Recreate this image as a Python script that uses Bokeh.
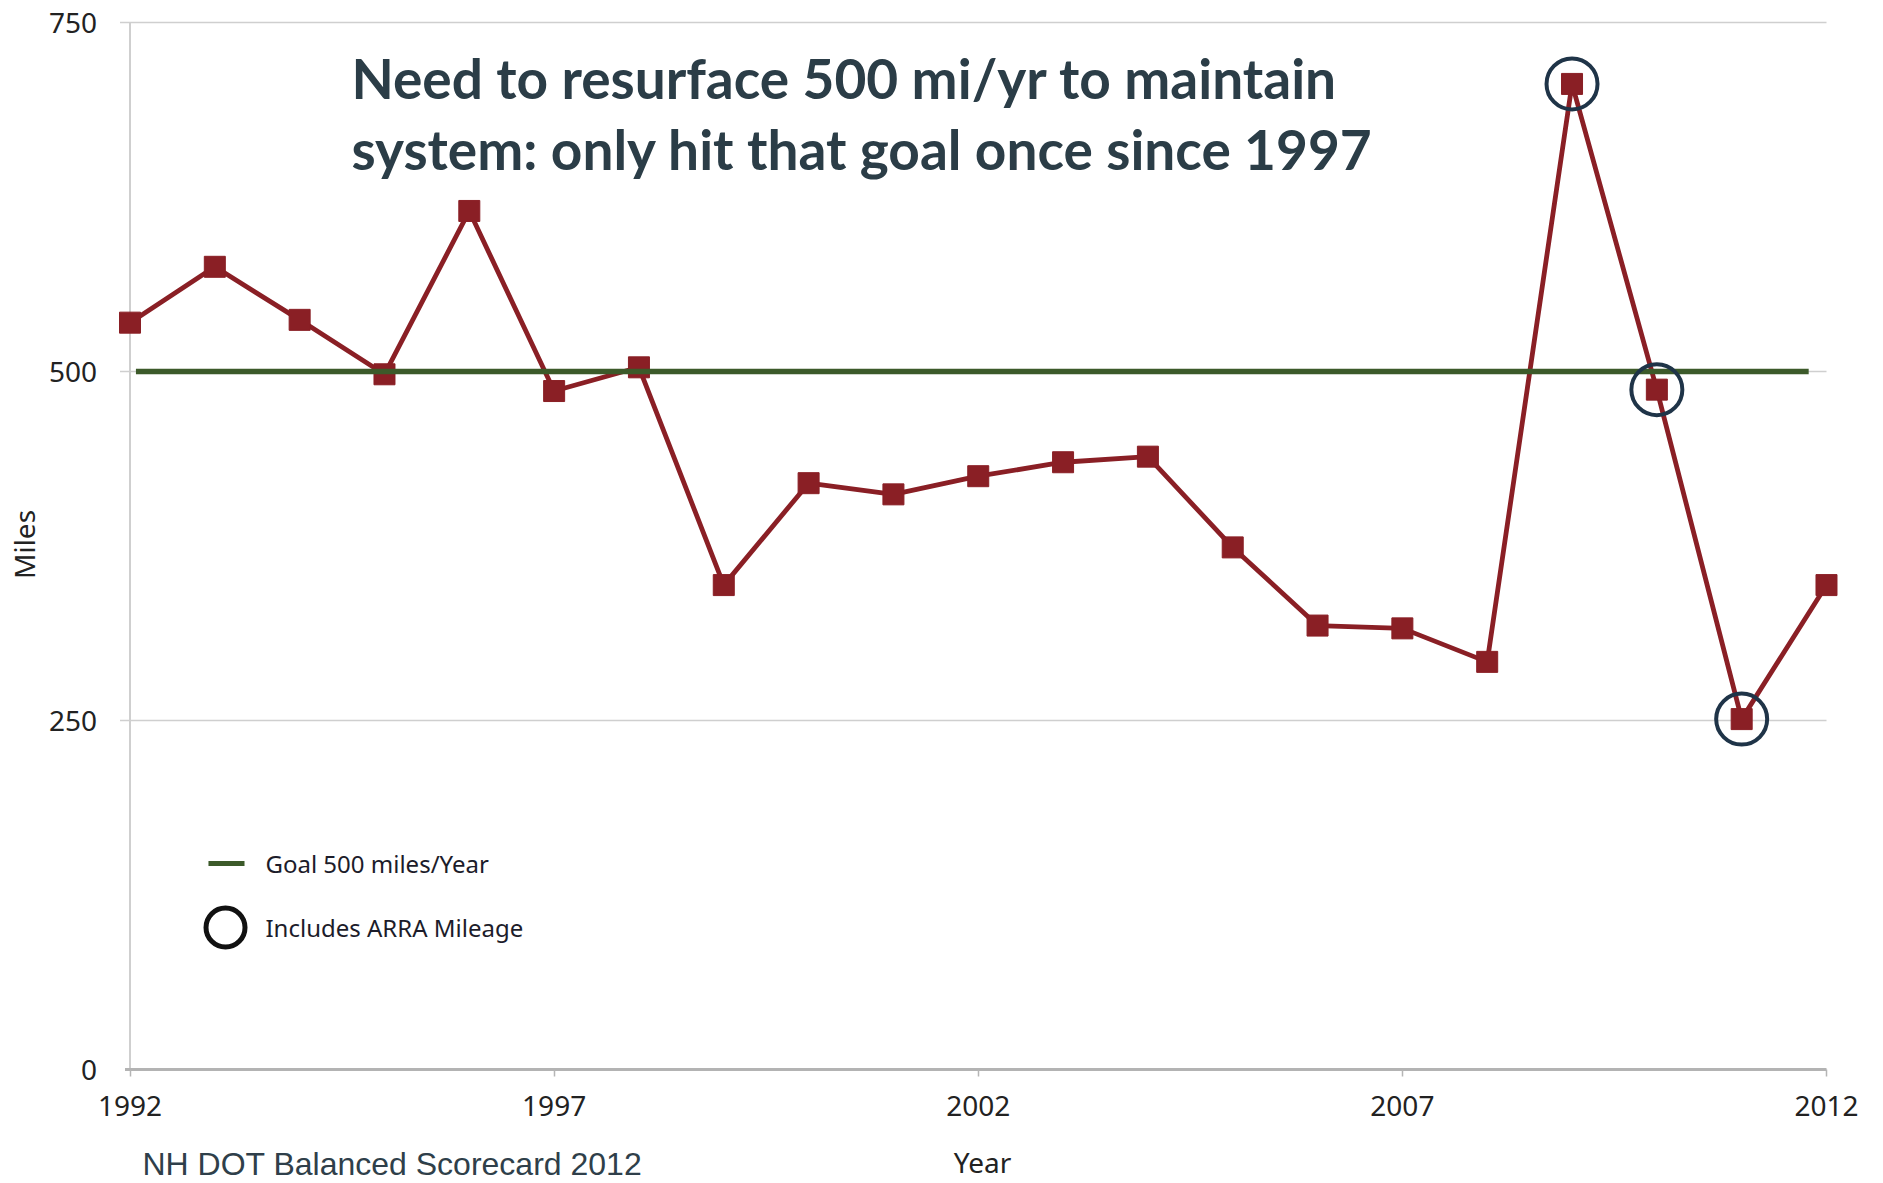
import math
from bokeh.plotting import figure
from bokeh.models import Range1d, FixedTicker, Label
from bokeh.embed import file_html
from bokeh.resources import INLINE

# ---- data ----
years = list(range(1992, 2013))
miles = [535, 575, 537, 498, 615, 486, 503, 347, 420, 412, 425,
         435, 439, 374, 318, 316, 292, 706, 487, 251, 347]
arra_years = [2009, 2010, 2011]
goal_miles = 500
goal_x = [1992.07, 2011.79]
x_ticks = [1992, 1997, 2002, 2007, 2012]
y_ticks = [0, 250, 500, 750]
title_lines = ["Need to resurface 500 mi/yr to maintain",
               "system:  only hit that goal once since 1997"]
legend_labels = ["Goal 500 miles/Year", "Includes ARRA Mileage"]
source_text = "NH DOT Balanced Scorecard 2012"
x_label = "Year"
y_label = "Miles"

arra_miles = [miles[years.index(y)] for y in arra_years]

RED = "#8a1f25"
GREEN = "#3c5a2a"
NAVY = "#1f3448"
TITLE_C = "#2b3d47"
GRID_C = "#cfcfcf"
TXT_C = "#222222"

W, H = 1883, 1183
p = figure(width=W, height=H,
           x_range=Range1d(1990.4733, 2012.672), y_range=Range1d(-81.66, 765.76),
           output_backend="svg", toolbar_location=None,
           min_border=0, min_border_left=0, min_border_right=0,
           min_border_top=0, min_border_bottom=0)
p.outline_line_color = None
p.grid.visible = False
p.background_fill_color = "white"

# axes placed inside the plotting area at the data origin
p.xaxis.fixed_location = y_ticks[0]
p.yaxis.fixed_location = years[0]
p.xaxis.ticker = FixedTicker(ticks=x_ticks)
p.yaxis.ticker = FixedTicker(ticks=y_ticks)
for ax in (p.xaxis[0], p.yaxis[0]):
    ax.axis_line_color = None
    ax.minor_tick_line_color = None
    ax.major_label_text_font = "Noto Sans"
    ax.major_label_text_font_size = "28px"
    ax.major_label_text_color = TXT_C
p.xaxis.major_tick_line_color = "#b5b5b5"
p.xaxis.major_tick_line_width = 1.5
p.xaxis.major_tick_out = 7
p.xaxis.major_tick_in = 0
p.xaxis.major_label_standoff = 19
p.yaxis.major_tick_line_color = None
p.yaxis.major_tick_out = 0
p.yaxis.major_tick_in = 0
p.yaxis.major_label_standoff = 33

tick_ext = 0.118  # gridline overhang left of the value axis (years)
grid_levels = y_ticks[1:]
p.segment(x0=[years[0] - tick_ext] * len(grid_levels), y0=grid_levels,
          x1=[years[-1]] * len(grid_levels), y1=grid_levels,
          line_color=GRID_C, line_width=1.6)
# value axis line
p.segment(x0=[years[0]], y0=[y_ticks[0]], x1=[years[0]], y1=[y_ticks[-1]],
          line_color=GRID_C, line_width=2)
# category axis line
p.segment(x0=[years[0] - tick_ext / 2], y0=[y_ticks[0]], x1=[years[-1]], y1=[y_ticks[0]],
          line_color="#b3b3b3", line_width=3)

# series
p.line(years, miles, line_color=RED, line_width=4.8)
p.scatter(years, miles, marker="square", size=21, fill_color=RED, line_color=RED)
# goal
p.line(goal_x, [goal_miles, goal_miles], line_color=GREEN, line_width=5.5)
# ARRA circles
p.scatter(arra_years, arra_miles, marker="circle", size=51, fill_color=None,
          line_color=NAVY, line_width=4)

# title text
for line, yv in zip(title_lines, [710.6, 659.4]):
    p.add_layout(Label(x=1994.61, y=yv, text=line, text_font="Lato",
                       text_font_style="bold", text_font_size="55px",
                       text_color=TITLE_C, text_baseline="middle"))

# legend
p.line([1992.925, 1993.35], [147.6, 147.6], line_color=GREEN, line_width=5)
p.scatter([1993.126], [101.7], marker="circle", size=39, fill_color=None,
          line_color="#111111", line_width=5)
for txt, yv in zip(legend_labels, [147.6, 101.7]):
    p.add_layout(Label(x=1993.597, y=yv, text=txt, text_font="Noto Sans",
                       text_font_size="24px", text_color="#1c1c2a",
                       text_baseline="middle"))

# axis titles
p.add_layout(Label(x=1990.756, y=376.1, text=y_label, angle=math.pi / 2,
                   text_font="Noto Sans", text_font_size="28px",
                   text_color=TXT_C, text_align="center", text_baseline="middle"))
p.add_layout(Label(x=2002.05, y=-66.0, text=x_label,
                   text_font="Noto Sans", text_font_size="28px",
                   text_color=TXT_C, text_align="center", text_baseline="middle"))

# source note
p.add_layout(Label(x=1992.147, y=-67.6, text=source_text,
                   text_font="Liberation Sans", text_font_size="32px",
                   text_color="#2f3f4a", text_baseline="middle"))

open("out.html", "w").write(file_html(p, INLINE))
